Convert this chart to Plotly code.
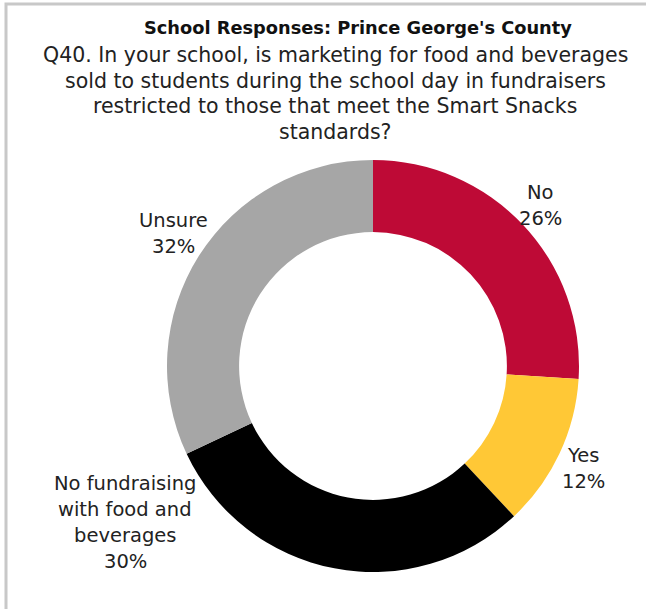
import textwrap
import plotly.graph_objects as go

categories = ["No", "Yes", "No fundraising with food and beverages", "Unsure"]
values = [26, 12, 30, 32]
colors = ["#BE0A36", "#FFC836", "#000000", "#A6A6A6"]

title_main = "School Responses: Prince George's County"
question = ["Q40. In your school, is marketing for food and beverages",
            "sold to students during the school day in fundraisers",
            "restricted to those that meet the Smart Snacks",
            "standards?"]

W, H = 646, 609
L, R, T, B = 167, 67, 160, 37
PW, PH = W - L - R, H - T - B

def px(x):
    return (x - L) / PW

def py(y):
    return (H - B - y) / PH

FONT = "DejaVu Sans"

fig = go.Figure(go.Pie(
    labels=categories,
    values=values,
    marker=dict(colors=colors, line=dict(width=0)),
    hole=0.65,
    sort=False,
    direction="clockwise",
    rotation=0,
    textinfo="none",
    showlegend=False,
))

# label block: (center x, first line y), line spacing in px
label_pos = [(540, 192), (583, 455), (125, 483), (173, 220)]
LINE = 26
annotations = []
for cat, v, (x, y0) in zip(categories, values, label_pos):
    lines = textwrap.wrap(cat, 14) + [f"{v}%"]
    for i, ln in enumerate(lines):
        annotations.append(dict(x=px(x), y=py(y0 + i * LINE), xref="paper", yref="paper",
                                text=ln, showarrow=False, xanchor="center", yanchor="middle",
                                font=dict(family=FONT, size=19.5, color="#222222")))

annotations.append(dict(x=px(358), y=py(27), xref="paper", yref="paper",
                        text=f"<b>{title_main}</b>", showarrow=False,
                        xanchor="center", yanchor="middle",
                        font=dict(family=FONT, size=17.8, color="#111111")))
q_y = [55, 80.5, 106, 131.5]
for ln, y in zip(question, q_y):
    annotations.append(dict(x=px(335), y=py(y), xref="paper", yref="paper",
                            text=ln, showarrow=False,
                            xanchor="center", yanchor="middle",
                            font=dict(family=FONT, size=20.5, color="#222222")))

fig.update_layout(
    width=W, height=H,
    margin=dict(l=L, r=R, t=T, b=B),
    paper_bgcolor="white",
    plot_bgcolor="white",
    annotations=annotations,
    shapes=[dict(type="rect", xref="paper", yref="paper",
                 x0=px(6), x1=px(720), y0=py(720), y1=py(4),
                 line=dict(color="#C8C8C8", width=3), fillcolor="rgba(0,0,0,0)")],
)

fig.write_html("out.html", config={"displayModeBar": False},
               post_script="document.body.style.margin='0';document.body.style.overflow='hidden';")
